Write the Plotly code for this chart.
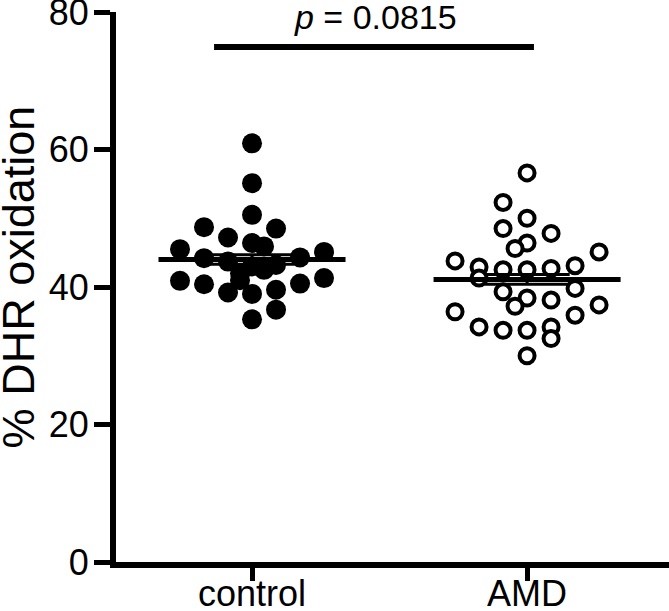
import plotly.graph_objects as go

# ---- data ----
categories = ["control", "AMD"]
control_values = [60.9, 55.1, 50.5, 48.7, 48.5, 47.2, 45.5, 45.1, 46.4, 45.9,
                  44.2, 44.3, 43.7, 43.0, 43.2, 42.0, 42.5, 41.0, 40.9, 40.4,
                  40.5, 41.3, 39.2, 39.0, 39.6, 36.7, 35.3]
amd_values = [56.6, 52.3, 50.0, 48.5, 47.8, 46.4, 45.6, 45.1, 43.8, 42.9,
              42.5, 42.5, 42.7, 43.1, 41.3, 39.3, 39.8, 38.4, 38.1, 37.2,
              37.4, 36.4, 35.9, 34.2, 33.7, 33.7, 34.2, 32.5, 30.0]
group_means = [44.0, 41.1]
group_sems = [0.7, 0.7]
p_text = "<i>p</i> = 0.0815"
y_ticks = [0, 20, 40, 60, 80]

# ---- layout helpers (swarm slot offsets, in half-marker units) ----
control_slots = [0, 0, 0, -4, 2, -2, -6, 6, 0, 1, -4, 4, -2, 0, 2, -1, 1, -1,
                 -6, -4, 4, 6, -2, 0, 2, 2, 0]
amd_slots = [0, -2, 0, -2, 2, 0, -1, 6, -6, -4, -2, 0, 2, 4, -4, -2, 4, 0, 2,
             -1, 6, -6, 4, -4, -2, 0, 2, 2, 0]
HALF_SLOT = 12 / 275.0   # 12 px in category units

FONT = "Liberation Sans, Arial, Helvetica, sans-serif"

fig = go.Figure()

fig.add_trace(go.Scatter(
    x=[0 + s * HALF_SLOT for s in control_slots], y=control_values,
    mode="markers", marker=dict(symbol="circle", size=20, color="black",
                                line=dict(width=0)),
    showlegend=False, hoverinfo="y", cliponaxis=False))
fig.add_trace(go.Scatter(
    x=[1 + s * HALF_SLOT for s in amd_slots], y=amd_values,
    mode="markers", marker=dict(symbol="circle", size=15, color="white",
                                line=dict(width=4, color="black")),
    showlegend=False, hoverinfo="y", cliponaxis=False))

# mean lines and SEM bars
MEAN_HALF = 0.34
CAP_HALF = 0.155
for i, (m, s) in enumerate(zip(group_means, group_sems)):
    fig.add_trace(go.Scatter(x=[i - MEAN_HALF, i + MEAN_HALF], y=[m, m],
                             mode="lines", line=dict(color="black", width=5),
                             showlegend=False, hoverinfo="skip"))
    fig.add_trace(go.Scatter(x=[i, i], y=[m - s, m + s], mode="lines",
                             line=dict(color="black", width=3),
                             showlegend=False, hoverinfo="skip"))
    for yy in (m - s, m + s):
        fig.add_trace(go.Scatter(x=[i - CAP_HALF, i + CAP_HALF], y=[yy, yy],
                                 mode="lines", line=dict(color="black", width=3),
                                 showlegend=False, hoverinfo="skip"))

# significance bar
fig.add_shape(type="line", x0=-0.138, x1=1.025, y0=74.9, y1=74.9,
              xref="x", yref="y", line=dict(color="black", width=6))
fig.add_annotation(x=0.45, y=79.3, xref="x", yref="y", text=p_text,
                   showarrow=False, xanchor="center", yanchor="middle",
                   font=dict(family=FONT, size=34, color="black"))

# y-axis title
fig.add_annotation(x=0, y=41.4, xref="paper", yref="y", text="% DHR oxidation",
                   textangle=-90, showarrow=False, xanchor="center",
                   yanchor="middle", xshift=-98,
                   font=dict(family=FONT, size=45, color="black"))

fig.update_layout(
    width=669, height=611,
    margin=dict(l=116, r=0, t=12, b=49),
    paper_bgcolor="white", plot_bgcolor="white",
    font=dict(family=FONT, color="black"),
    xaxis=dict(range=[-0.4945, 1.516], tickvals=[0, 1], ticktext=categories,
               showgrid=False, zeroline=False, showline=True, linecolor="black",
               linewidth=6, ticks="outside", ticklen=13, tickwidth=5,
               tickcolor="black", tickfont=dict(size=36, family=FONT),
               automargin=False, ticklabeloverflow="allow",
               ticklabelstandoff=-18),
    yaxis=dict(range=[0, 80], tickvals=y_ticks, showgrid=False, zeroline=False,
               showline=True, linecolor="black", linewidth=6, ticks="outside",
               ticklen=16, tickwidth=5, tickcolor="black",
               tickfont=dict(size=36, family=FONT), automargin=False,
               ticklabeloverflow="allow", ticklabelstandoff=-2),
)

fig.write_html(
    "out.html",
    config={"displayModeBar": False},
    post_script="document.body.style.margin='0';document.body.style.padding='0';"
                "document.body.style.overflow='hidden';",
)
